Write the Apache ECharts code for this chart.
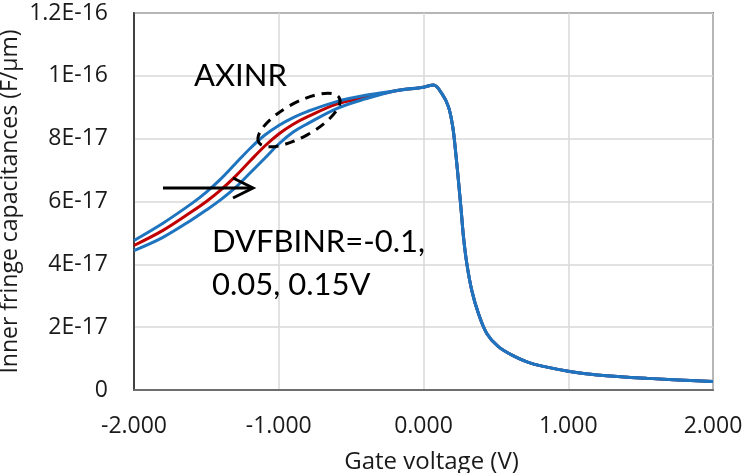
<!DOCTYPE html>
<html>
<head>
<meta charset="utf-8">
<script src="https://cdn.jsdelivr.net/npm/echarts@6/dist/echarts.min.js"></script>
<style>
html,body{margin:0;padding:0;background:#fff;}
#chart{width:743px;height:473px;}
</style>
</head>
<body>
<div id="chart"></div>
<script>
// Values in units of 1E-17 F/um
const voltLeft = [-2.0, -1.8, -1.6, -1.5, -1.4, -1.3, -1.2, -1.1, -1.0, -0.9, -0.8, -0.6, -0.4];
const capUpper = [4.76, 5.31, 5.94, 6.30, 6.72, 7.20, 7.68, 8.10, 8.42, 8.67, 8.87, 9.18, 9.38];
const capMid   = [4.60, 5.08, 5.68, 6.00, 6.37, 6.80, 7.28, 7.75, 8.15, 8.46, 8.70, 9.10, 9.31];
const capLower = [4.44, 4.86, 5.42, 5.73, 6.06, 6.44, 6.90, 7.36, 7.83, 8.21, 8.48, 8.96, 9.27];
const voltTail = [-0.2, 0.0, 0.069, 0.126, 0.172, 0.202, 0.223, 0.241, 0.26, 0.276, 0.299, 0.333, 0.379, 0.437, 0.517, 0.632, 0.724, 0.82, 1.0, 1.2, 1.55, 2.0];
const capTail  = [9.52, 9.64, 9.71, 9.44, 9.02, 8.38, 7.53, 6.68, 5.73, 4.88, 4.03, 3.18, 2.44, 1.80, 1.38, 1.06, 0.88, 0.76, 0.60, 0.48, 0.37, 0.27];
const yTickLabels = ['0', '2E-17', '4E-17', '6E-17', '8E-17', '1E-16', '1.2E-16'];
const xTickLabels = ['-2.000', '-1.000', '0.000', '1.000', '2.000'];

function build(left) {
  const pts = voltLeft.map((v, i) => [v, left[i]]);
  return pts.concat(voltTail.map((v, i) => [v, capTail[i]]));
}

const FONT = 'Open Sans';
const AFONT = 'Lato';
const chart = echarts.init(document.getElementById('chart'));
const lineBase = { type: 'line', showSymbol: false, smooth: 0.35 };
chart.setOption({
  animation: false,
  textStyle: { fontFamily: FONT },
  grid: { left: 134, right: 30, top: 13, bottom: 83, containLabel: false, outerBoundsMode: 'none',
    show: true, borderColor: '#1a1a1a', borderWidth: 1.5, backgroundColor: 'transparent' },
  xAxis: {
    type: 'value', min: -2, max: 2, interval: 1,
    name: 'Gate voltage (V)', nameLocation: 'middle', nameGap: 60, nameMoveOverlap: false,
    nameTextStyle: { fontSize: 24, color: '#1a1a1a', fontFamily: FONT, padding: [0, 0, 0, 16] },
    axisLine: { show: true, onZero: false, lineStyle: { color: '#6e6e6e', width: 2 } },
    axisTick: { show: false },
    axisLabel: { fontSize: 23, color: '#1a1a1a', margin: 25, fontFamily: FONT,
      formatter: v => xTickLabels[Math.round(v + 2)] },
    splitLine: { show: true, lineStyle: { color: '#d9d9d9', width: 1.5 } }
  },
  yAxis: {
    type: 'value', min: 0, max: 12, interval: 2,
    name: 'Inner fringe capacitances (F/\u03bcm)', nameLocation: 'middle', nameGap: 112, nameMoveOverlap: false,
    nameTextStyle: { fontSize: 23, color: '#1a1a1a', fontFamily: FONT },
    axisLine: { show: true, onZero: false, lineStyle: { color: '#1a1a1a', width: 1.5 } },
    axisTick: { show: false },
    axisLabel: { fontSize: 23, color: '#1a1a1a', margin: 26, fontFamily: FONT,
      formatter: v => yTickLabels[Math.round(v / 2)] },
    splitLine: { show: true, lineStyle: { color: '#d9d9d9', width: 1.5 } }
  },
  series: [
    Object.assign({}, lineBase, { name: 'mid', data: build(capMid), z: 2, lineStyle: { color: '#c00000', width: 3 } }),
    Object.assign({}, lineBase, { name: 'lower', data: build(capLower), z: 3, lineStyle: { color: '#1f74c0', width: 3 } }),
    Object.assign({}, lineBase, { name: 'upper', data: build(capUpper), z: 4, lineStyle: { color: '#1f74c0', width: 3 } })
  ],
  graphic: [
    { type: 'text', left: 194, top: 60, style: { text: 'AXINR', fontSize: 31, fontFamily: AFONT, fill: '#000' }, z: 10 },
    { type: 'ellipse', x: 299, y: 120, rotation: 0.506, shape: { cx: 0, cy: 0, rx: 46, ry: 17 },
      style: { fill: 'none', stroke: '#000', lineWidth: 3, lineDash: [10, 7] }, z: 10 },
    { type: 'line', shape: { x1: 163, y1: 188, x2: 252, y2: 188 }, style: { stroke: '#000', lineWidth: 3 }, z: 10 },
    { type: 'polyline', shape: { points: [[233, 178], [253, 188], [233, 198]] }, style: { stroke: '#000', lineWidth: 3, fill: 'none' }, z: 10 },
    { type: 'text', left: 212, top: 220, style: { text: 'DVFBINR=-0.1,\n0.05, 0.15V', fontSize: 31, lineHeight: 43, fontFamily: AFONT, fill: '#000' }, z: 10 }
  ]
});
</script>
</body>
</html>
